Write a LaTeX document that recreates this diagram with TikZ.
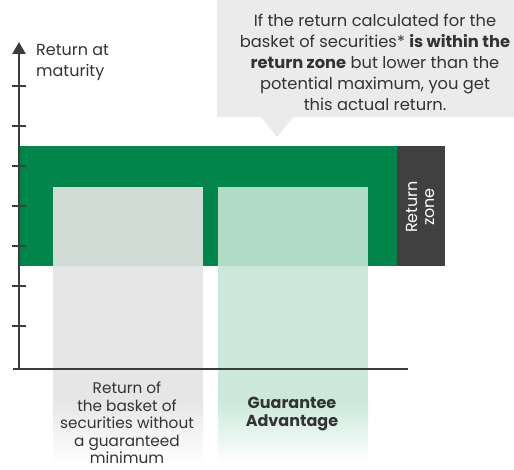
\documentclass[tikz,border=0pt]{standalone}
\usepackage{fontspec}
\setmainfont{Poppins}
\usetikzlibrary{arrows.meta}
\definecolor{dgreen}{HTML}{00854A}
\definecolor{zonegrey}{HTML}{404040}
\definecolor{axisgrey}{HTML}{3C3C3C}
\definecolor{txt}{HTML}{333333}
\definecolor{callgrey}{HTML}{EBEBEB}
\definecolor{greyon}{HTML}{CFDCD6}
\definecolor{greyoff}{HTML}{E6E6E6}
\definecolor{lgon}{HTML}{B0DCC5}
\definecolor{lgoff}{HTML}{CBE8DA}
\tikzset{
  axisline/.style={draw=axisgrey, line width=2.6pt},
  tickline/.style={draw=axisgrey, line width=2pt},
  lbl/.style={text=txt, align=center, inner sep=0pt},
}
\begin{document}
\begin{tikzpicture}[x=1pt,y=-1pt]
\useasboundingbox (0,0) rectangle (514,470);
% callout
\fill[callgrey] (217,0) rectangle (514,117);
\fill[callgrey] (260,116) -- (294,116) -- (277,137) -- cycle;
\node[lbl, font=\fontsize{16.3}{21}\selectfont] (callout) at (375,62)
 {If the return calculated for the\\basket of securities* \textbf{is within the}\\\textbf{return zone} but lower than the\\potential maximum, you get\\this actual return.};
% green band and zone box
\fill[dgreen] (19,146) rectangle (397,266);
\fill[zonegrey] (397,146) rectangle (445,266);
\node[lbl, text=white, rotate=90, font=\fontsize{16}{17}\selectfont] (zone) at (420,207) {Return\\zone};
% grey box
\fill[greyon] (53,187) rectangle (203,266);
\fill[greyoff] (53,266) rectangle (203,400);
\shade[top color=greyoff, bottom color=white] (53,400) rectangle (203,463);
% light green box
\fill[lgon] (218,187) rectangle (368,266);
\fill[lgoff] (218,266) rectangle (368,400);
\shade[top color=lgoff, bottom color=white] (218,400) rectangle (368,463);
% axes
\coordinate (origin) at (19,369);
\coordinate (ytop) at (19,42);
\coordinate (xleft) at (13,369);
\coordinate (xright) at (408,369);
\draw[axisline, -{Triangle[length=12pt,width=13pt]}] (origin) -- (ytop);
\draw[axisline] (xleft) -- (xright);
\foreach \y in {86,126,166,206,246,286,326}
  \draw[tickline] (12,\y) -- (26,\y);
\node[lbl, align=left, anchor=north west, font=\fontsize{16}{21}\selectfont] (ylabel) at (36,44) {Return at\\maturity};
\node[lbl, font=\fontsize{15.3}{17.6}\selectfont] (lbla) at (127,423) {Return of\\the basket of\\securities without\\a guaranteed\\minimum};
\node[lbl, font=\bfseries\fontsize{16}{18}\selectfont] (lblb) at (292,414) {Guarantee\\Advantage};
\end{tikzpicture}
\end{document}
